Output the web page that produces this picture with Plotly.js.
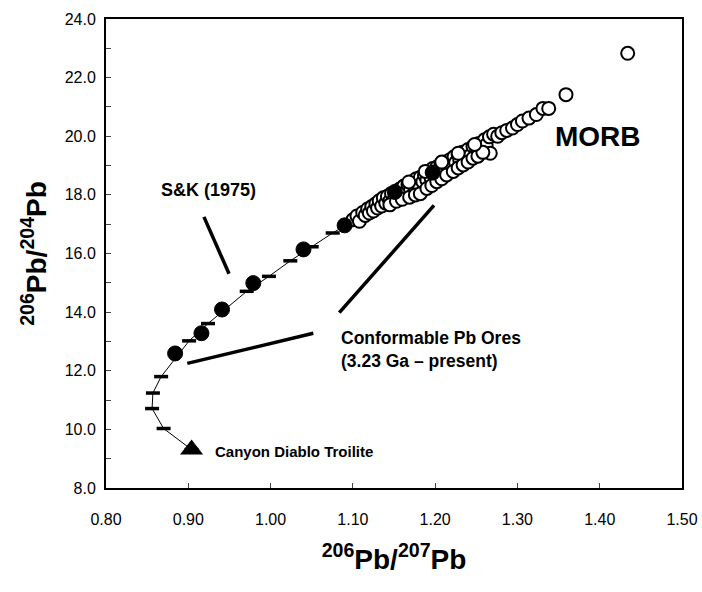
<!DOCTYPE html>
<html>
<head>
<meta charset="utf-8">
<script src="https://cdn.plot.ly/plotly-3.0.1.min.js"></script>
<style>html,body{margin:0;padding:0;background:#fff;}</style>
</head>
<body>
<div id="chart" style="width:702px;height:592px;"></div>
<script>
// Stacey & Kramers (1975) model curve nodes (206Pb/207Pb, 206Pb/204Pb)
const skX = [0.904, 0.870, 0.856, 0.857, 0.867, 0.901, 0.924, 0.971, 0.998, 1.024, 1.050, 1.0755, 1.122, 1.148, 1.172, 1.197];
const skY = [9.31, 10.03, 10.71, 11.24, 11.80, 13.02, 13.61, 14.71, 15.22, 15.75, 16.23, 16.70, 17.50, 17.92, 18.32, 18.70];

// Conformable Pb ores (3.23 Ga - present)
const oreX = [0.884, 0.916, 0.941, 0.979, 1.040, 1.090, 1.151, 1.197];
const oreY = [12.59, 13.28, 14.09, 14.99, 16.14, 16.96, 18.10, 18.76];

// MORB
const morbX = [1.100,1.105,1.108,1.112,1.115,1.118,1.120,1.123,1.125,1.128,1.130,1.132,1.135,1.137,1.140,1.142,1.145,1.147,1.150,1.152,1.155,1.157,1.160,1.162,1.165,1.167,1.170,1.172,1.175,1.177,1.180,1.182,1.185,1.187,1.190,1.192,1.195,1.197,1.200,1.202,1.205,1.207,1.210,1.212,1.215,1.218,1.220,1.223,1.225,1.228,1.230,1.233,1.236,1.240,1.243,1.246,1.250,1.253,1.256,1.260,1.262,1.266,1.267,1.271,1.276,1.281,1.287,1.294,1.300,1.306,1.314,1.323,1.331,1.338,1.359,1.434,
  1.145,1.153,1.160,1.169,1.176,1.182,1.190,1.196,1.202,1.208,1.214,1.222,1.228,1.234,1.240,1.246,1.252,1.258,
  1.168,1.188,1.208,1.228,1.248];
const morbY = [17.15,17.28,17.10,17.40,17.30,17.52,17.38,17.60,17.45,17.70,17.55,17.80,17.62,17.90,17.72,17.95,17.80,18.05,17.85,18.10,17.95,18.20,18.02,18.30,18.12,18.35,18.20,18.45,18.28,18.55,18.35,18.60,18.45,18.68,18.50,18.80,18.58,18.90,18.65,18.95,18.75,19.05,18.82,19.12,18.92,19.20,19.00,19.30,19.10,19.38,19.18,19.45,19.28,19.55,19.35,19.65,19.45,19.75,19.58,19.88,19.70,19.98,19.42,20.07,20.00,20.12,20.20,20.28,20.40,20.52,20.62,20.74,20.95,20.95,21.42,22.83,
  17.66,17.78,17.85,17.92,18.00,18.04,18.22,18.32,18.45,18.55,18.68,18.80,18.92,19.02,19.12,19.25,19.32,19.45,
  18.44,18.80,19.12,19.42,19.72];

// Canyon Diablo Troilite
const cdtX = [0.904];
const cdtY = [9.31];

const xTicks = [0.8, 0.9, 1.0, 1.1, 1.2, 1.3, 1.4, 1.5];
const xTickText = ['0.80','0.90','1.00','1.10','1.20','1.30','1.40','1.50'];
const yTicks = [8, 10, 12, 14, 16, 18, 20, 22, 24];
const yTickText = ['8.0','10.0','12.0','14.0','16.0','18.0','20.0','22.0','24.0'];

const FONT = 'Liberation Sans, Arial, sans-serif';

const traces = [
  {
    x: skX, y: skY, type: 'scatter', mode: 'lines+markers',
    line: {color: '#000', width: 1},
    marker: {symbol: 'line-ew', size: 10, line: {color: '#000', width: 3.5}},
    showlegend: false
  },
  {
    x: morbX, y: morbY, type: 'scatter', mode: 'markers',
    marker: {symbol: 'circle', size: 13, color: '#fff', line: {color: '#000', width: 2}},
    showlegend: false
  },
  {
    x: oreX, y: oreY, type: 'scatter', mode: 'markers',
    marker: {symbol: 'circle', size: 15, color: '#000', line: {color: '#000', width: 1}},
    showlegend: false
  },
  {
    x: cdtX, y: cdtY, type: 'scatter', mode: 'markers',
    marker: {symbol: 'triangle-up', size: 20, color: '#000'},
    showlegend: false
  }
];

const layout = {
  width: 702, height: 592,
  margin: {l: 106, r: 20, t: 19, b: 104},
  paper_bgcolor: '#fff', plot_bgcolor: '#fff',
  font: {family: FONT, color: '#000', size: 16},
  showlegend: false,
  xaxis: {
    range: [0.8, 1.5], autorange: false,
    tickmode: 'array', tickvals: xTicks, ticktext: xTickText,
    ticks: 'inside', ticklen: 5, tickwidth: 1, tickcolor: '#444',
    ticklabelstandoff: 16,
    showline: true, mirror: true, linecolor: '#000', linewidth: 2,
    showgrid: false, zeroline: false,
    tickfont: {family: FONT, size: 16, color: '#000'},
    title: {text: '<b><sup>206</sup>Pb/<sup>207</sup>Pb</b>', font: {family: FONT, size: 28, color: '#000'}, standoff: 22}
  },
  yaxis: {
    range: [8, 24], autorange: false,
    tickmode: 'array', tickvals: yTicks, ticktext: yTickText,
    ticks: 'inside', ticklen: 5, tickwidth: 1, tickcolor: '#444',
    ticklabelstandoff: 5,
    minor: {dtick: 1, ticks: 'inside', ticklen: 5, tickcolor: '#444', showgrid: false},
    showline: true, mirror: true, linecolor: '#000', linewidth: 2,
    showgrid: false, zeroline: false,
    tickfont: {family: FONT, size: 16, color: '#000'},
    title: {text: '<b><sup>206</sup>Pb/<sup>204</sup>Pb</b>', font: {family: FONT, size: 28, color: '#000'}, standoff: 10}
  },
  shapes: [
    {type: 'line', xref: 'x', yref: 'y', x0: 0.919, y0: 17.25, x1: 0.9495, y1: 15.31, line: {color: '#000', width: 3.5}},
    {type: 'line', xref: 'x', yref: 'y', x0: 1.0835, y0: 13.98, x1: 1.1986, y1: 17.64, line: {color: '#000', width: 3.5}},
    {type: 'line', xref: 'x', yref: 'y', x0: 0.8988, y0: 12.25, x1: 1.0519, y1: 13.28, line: {color: '#000', width: 3.5}}
  ],
  annotations: [
    {x: 1.398, y: 19.98, xref: 'x', yref: 'y', text: '<b>MORB</b>', showarrow: false,
     font: {family: FONT, size: 28, color: '#000'}},
    {x: 0.925, y: 18.15, xref: 'x', yref: 'y', text: '<b>S&amp;K (1975)</b>', showarrow: false,
     font: {family: FONT, size: 18, color: '#000'}},
    {x: 1.083, y: 12.74, xref: 'x', yref: 'y', xanchor: 'left', align: 'left',
     text: '<b>Conformable Pb Ores<br>(3.23 Ga – present)</b>', showarrow: false,
     font: {family: FONT, size: 17.5, color: '#000'}},
    {x: 0.930, y: 9.25, xref: 'x', yref: 'y', xanchor: 'left', text: '<b>Canyon Diablo Troilite</b>', showarrow: false,
     font: {family: FONT, size: 15, color: '#000'}}
  ]
};

Plotly.newPlot('chart', traces, layout, {displayModeBar: false, staticPlot: true});
</script>
</body>
</html>
